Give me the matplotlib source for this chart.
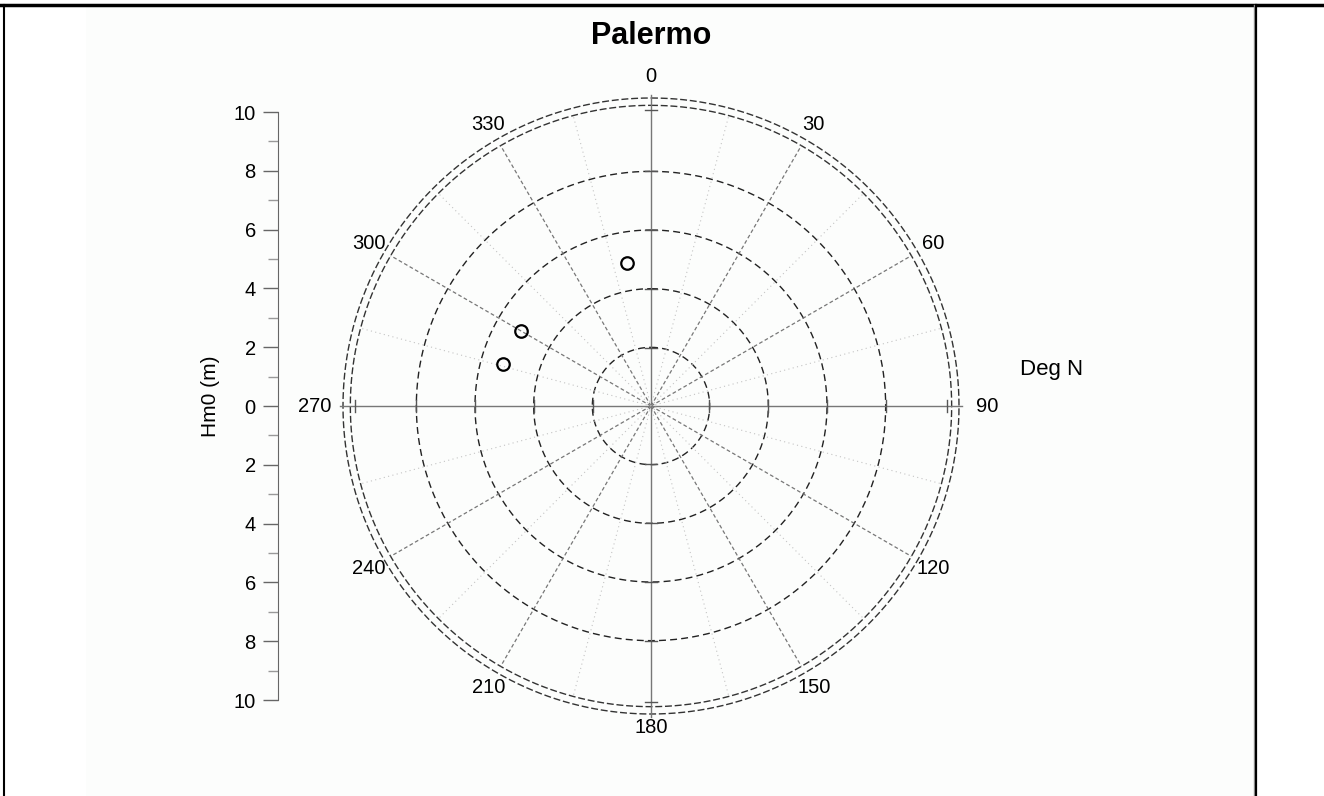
import numpy as np
import matplotlib.pyplot as plt
from matplotlib.lines import Line2D

plt.rcParams['font.family'] = ['Liberation Sans', 'DejaVu Sans']

# datos (direccion en grados N, altura Hm0 en m)
direcciones = [350.5, 300.0, 286.0]
alturas = [4.95, 5.1, 5.25]

titulo = "Palermo"
etiquetas_ang = [0, 30, 60, 90, 120, 150, 180, 210, 240, 270, 300, 330]
radios = [2, 4, 6, 8]
radios_borde = [10.25, 10.5]
ticks_eje = [10, 8, 6, 4, 2, 0, 2, 4, 6, 8, 10]

W, H = 1324, 796
fig = plt.figure(figsize=(W / 100, H / 100), dpi=100)
fig.patch.set_facecolor("white")


def fx(px):
    return px / W


def fy(py):
    return 1 - py / H


# marco del documento
fig.add_artist(plt.Rectangle((fx(86), 0), fx(1254) - fx(86), fy(7), transform=fig.transFigure,
                             facecolor="#fcfdfc", edgecolor="none", zorder=-10))
fig.add_artist(Line2D([0, 1], [fy(5), fy(5)], color="black", lw=2.5, transform=fig.transFigure))
fig.add_artist(Line2D([fx(4), fx(4)], [0, fy(5)], color="black", lw=1.5, transform=fig.transFigure))
fig.add_artist(Line2D([fx(1254), fx(1254)], [0, fy(5)], color="#999999", lw=1.0, transform=fig.transFigure))
fig.add_artist(Line2D([fx(1256), fx(1256)], [0, fy(5)], color="black", lw=1.6, transform=fig.transFigure))

# eje polar: centro (651, 406), radio 10.5 -> 308 px
cx, cy, R = 651, 406, 308
ax = fig.add_axes([fx(cx - R), fy(cy + R), 2 * R / W, 2 * R / H], projection="polar")
ax.set_theta_zero_location("N")
ax.set_theta_direction(-1)
ax.set_rlim(0, 10.5)
ax.set_facecolor("none")
ax.grid(False)
ax.set_xticks([])
ax.set_yticks([])
ax.spines["polar"].set_visible(False)

t = np.linspace(0, 2 * np.pi, 721)
for r in radios:
    ax.plot(t, np.full_like(t, r), color="#222222", lw=1.0, ls=(0, (5, 3)))
for r in radios_borde:
    ax.plot(t, np.full_like(t, r), color="#333333", lw=1.0, ls=(0, (5, 2)), clip_on=False)

# radios cada 15 grados
for a in range(0, 360, 15):
    th = np.deg2rad(a)
    if a % 90 == 0:
        ax.plot([th, th], [0, 10.6], color="#777777", lw=1.0, clip_on=False)
    elif a % 30 == 0:
        ax.plot([th, th], [0, 10.25], color="#777777", lw=0.9, ls=(0, (3, 2)))
    else:
        ax.plot([th, th], [0, 10.25], color="#c4c4c4", lw=0.8, ls=(0, (1, 3)))

# marcas cortas sobre los ejes cardinales
for a in [0, 90, 180, 270]:
    th = np.deg2rad(a)
    for r in radios + [10.1]:
        dth = 0.2 / r
        ax.plot([th - dth, th + dth], [r, r], color="#555555", lw=1.0, clip_on=False)

# etiquetas de angulo
for a in etiquetas_ang:
    if a in (90, 270):
        rr = 11.45
    elif a == 0:
        rr = 11.25
    elif a == 180:
        rr = 10.95
    else:
        rr = 11.1
    ax.text(np.deg2rad(a), rr, str(a), ha="center", va="center", fontsize=14.5, clip_on=False)

# puntos
ax.plot(np.deg2rad(direcciones), alturas, ls="none", marker="o", ms=9,
        mfc="none", mec="black", mew=1.6)

fig.text(fx(651), fy(36), titulo, ha="center", va="center", fontsize=22, fontweight="bold")
fig.text(fx(1052), fy(369), "Deg N", ha="center", va="center", fontsize=16)
fig.text(fx(210), fy(396), "Hm0 (m)", ha="center", va="center", fontsize=15, rotation=90)

# eje vertical izquierdo (Hm0)
ay = fig.add_axes([fx(278), fy(700), 0.001, (700 - 112) / H])
ay.set_ylim(-10, 10)
ay.set_facecolor("none")
for s in ["top", "right", "bottom"]:
    ay.spines[s].set_visible(False)
ay.spines["left"].set_color("#666666")
ay.set_xticks([])
ay.set_yticks(np.arange(10, -11, -2))
ay.set_yticklabels([str(v) for v in ticks_eje[::-1]], fontsize=14.5)
ay.set_yticks(np.arange(-9, 10, 2), minor=True)
ay.tick_params(axis="y", which="major", length=11, width=1, color="#666666", pad=5)
ay.tick_params(axis="y", which="minor", length=7, width=1, color="#999999")

fig.savefig("out.png", dpi=100)
